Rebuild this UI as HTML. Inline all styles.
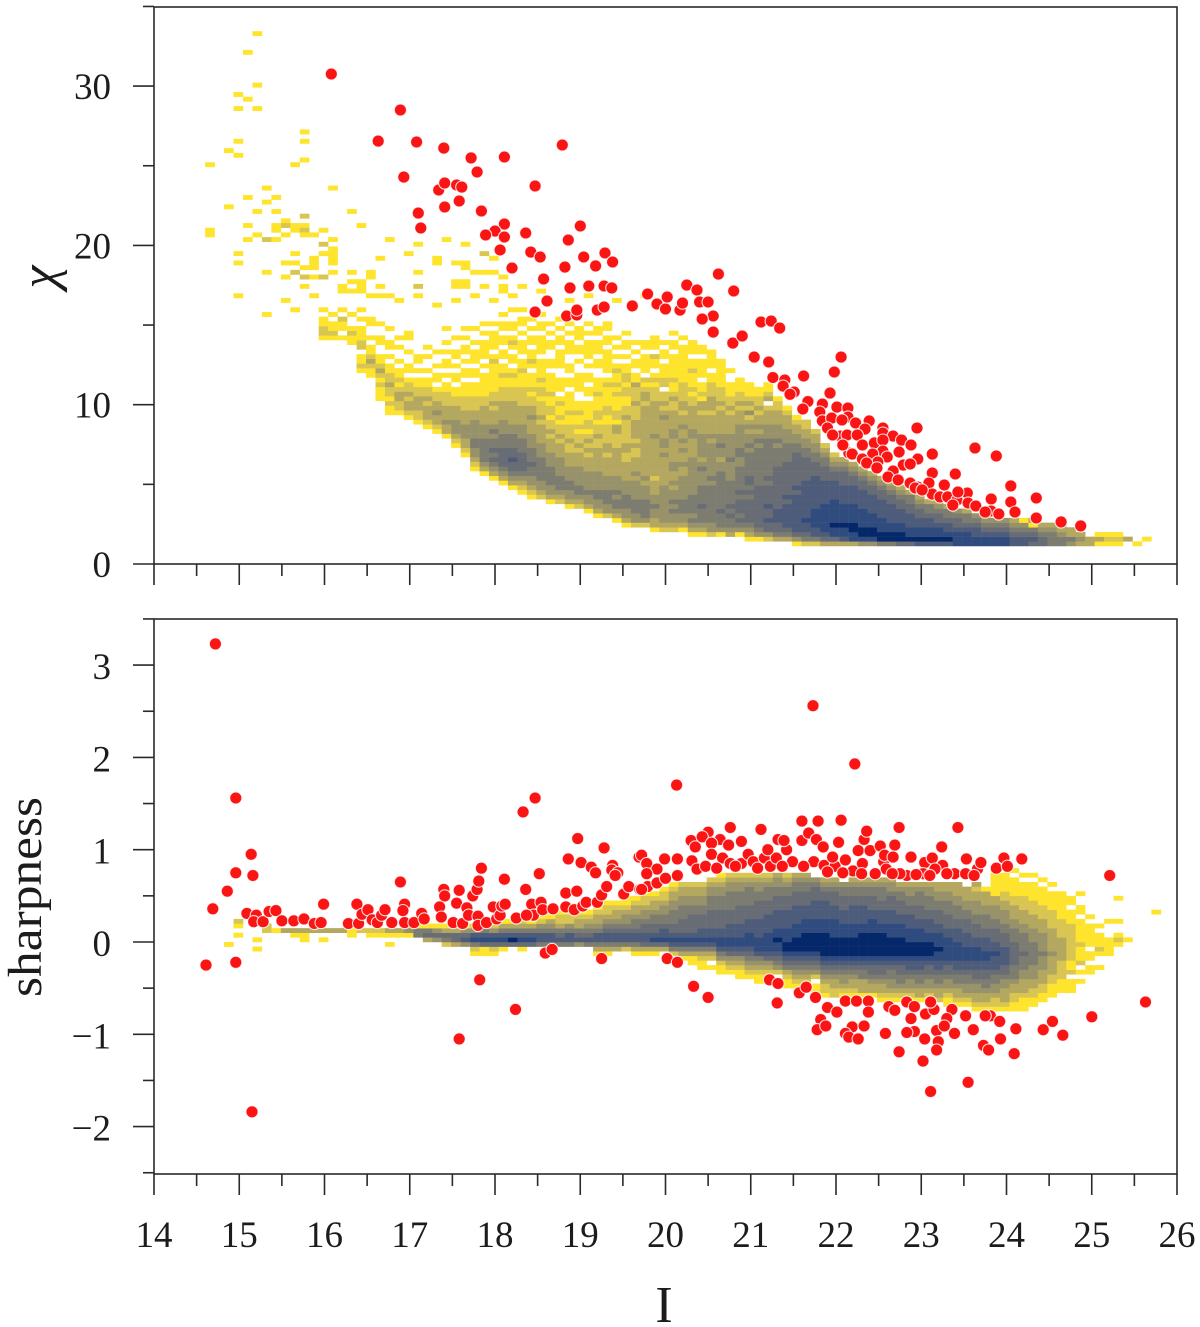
<!DOCTYPE html>
<html lang="en">
<head>
<meta charset="utf-8">
<title>Chi and sharpness versus I magnitude</title>
<style>
html,body{margin:0;padding:0;background:#fff;}
svg{display:block;font-family:"Liberation Serif",serif;}
text{fill:#1c1c1c;}
</style>
</head>
<body>
<svg id="chart" xmlns="http://www.w3.org/2000/svg" width="1200" height="1327" viewBox="0 0 1200 1327">
<rect x="0" y="0" width="1200" height="1327" fill="#fff"/>
<g id="heat"></g>
<g id="dots"></g>
<rect x="154" y="7" width="1023" height="557" fill="none" stroke="#2a2a2a" stroke-width="1.6"/>
<rect x="154" y="619" width="1023" height="555" fill="none" stroke="#2a2a2a" stroke-width="1.6"/>
<g id="axes" stroke="#2a2a2a" stroke-width="1.6"></g>
<g id="labels" font-size="37"></g>
<text transform="translate(56,277) rotate(-90)" text-anchor="middle" font-size="52" font-style="italic">χ</text>
<text transform="translate(41,897) rotate(-90)" text-anchor="middle" font-size="48" textLength="200" lengthAdjust="spacingAndGlyphs">sharpness</text>
<text x="664" y="1322" text-anchor="middle" font-size="52">I</text>
</svg>
<script>
const xMajorTicks=[14,15,16,17,18,19,20,21,22,23,24,25,26];
const xMinorTicks=[14.5,15.5,16.5,17.5,18.5,19.5,20.5,21.5,22.5,23.5,24.5,25.5];
const chiMajorTicks=[0,10,20,30];
const chiMinorTicks=[5,15,25,35];
const sharpMajorTicks=[-2,-1,0,1,2,3];
const sharpMinorTicks=[-2.5,-1.5,-0.5,0.5,1.5,2.5,3.5];
const levelColors=["#ffffff","#ffe42e","#d8c552","#b4a760","#98926a","#7d7c70","#686d75","#4e5c7b","#304c7e","#05286a"];

const binStartI=14.6;
const binWidthI=0.111;
const chiBinStart=1.13;
const chiBinHeight=0.2938;
const sharpBinStart=-1;
const sharpBinHeight=0.05;

const chiFirstColumn=12;
const chiDensity=[
[44,1,2,2,1,1,0,1],
[44,1,2,1,1,0,1],
[43,0,1,0,1,1,2,0,1],
[43,1,1,2,1,0,0,1],
[37,1,2,1,1,0,2,2,1,1,1,0,1,0,1],
[36,1,1,2,3,2,1,1,0,1,0,0,1,1],
[31,1,1,1,2,1,2,3,2,1,1,0,0,1,1,0,0,1],
[28,1,1,2,1,2,2,3,2,2,1,1,0,1,0,1,1,0,0,1],
[28,1,2,2,3,3,2,1,2,1,1,0,1,0,0,1,0,1],
[27,1,2,3,3,2,3,2,2,1,0,1,1,0,0,1,0,0,1,1],
[26,1,2,2,3,3,3,2,2,1,1,0,1,0,1,1],
[25,1,2,3,3,3,2,3,2,2,1,1,0,1,0,0,1,0,1],
[24,1,2,3,3,4,3,3,2,2,1,0,1,1,0,1,0,0,1],
[23,1,3,3,4,3,3,3,2,2,2,1,1,0,1,0,1,1,0,1,0,1,0,0,1],
[21,1,2,3,4,4,4,3,3,3,2,2,1,1,0,1,1,0,1,0,1,1,0,0,1],
[19,1,2,3,3,4,4,4,3,3,3,2,2,2,1,1,1,0,1,1,0,1,0,1,1,0,1,0,1],
[16,1,2,3,4,4,5,5,4,4,4,4,3,3,2,2,2,1,1,1,0,1,1,0,1,1,1,0,1,0,0,1],
[15,1,3,4,5,5,5,5,5,4,4,4,3,3,3,3,2,2,1,1,1,1,1,0,1,0,1,1,1,1,0,1,0,1],
[14,1,3,4,5,6,5,6,5,5,4,5,4,3,3,3,2,3,2,2,1,1,1,1,1,1,2,1,0,1,1,1,1,0,1],
[13,1,3,4,5,6,6,6,6,5,5,5,4,4,4,3,3,3,3,2,2,2,1,1,2,1,1,0,1,1,0,1,1,0,1,1,0,1],
[12,1,3,4,5,6,6,7,6,6,5,5,5,4,4,3,3,3,3,3,2,2,2,1,1,2,1,0,1,1,0,1,2,1,0,1,1,0,0,1],
[11,1,2,3,4,5,6,6,6,6,5,5,5,4,4,4,3,3,3,3,2,2,2,2,1,1,1,2,1,1,0,1,1,1,0,1,0,1,1,0,1],
[10,1,2,3,4,4,5,5,6,5,5,5,4,4,4,3,3,3,4,3,3,2,2,1,2,1,1,1,0,1,2,1,1,0,1,1,0,1,0,1],
[10,2,3,4,4,5,5,5,5,5,4,4,4,3,3,3,3,2,3,2,2,2,1,2,2,1,2,1,1,1,1,0,1,1,1,1,0,1,1,0,1],
[9,1,3,4,4,5,5,5,5,4,4,4,3,3,3,2,3,2,2,1,2,2,1,1,2,1,1,1,1,0,1,1,0,0,1,1,0,1,0,1],
[9,2,3,4,5,5,5,4,4,4,4,3,3,3,2,3,2,2,1,2,1,1,2,1,0,1,1,1,0,0,1,1,1,1,0,1,1,0,1,0,1],
[8,1,3,4,4,5,5,4,4,4,3,3,3,2,2,3,2,2,2,1,1,2,1,1,1,1,0,1,1,0,1,1,0,0,1,1,1,0,1,0,1],
[8,2,3,4,5,5,4,4,4,4,3,3,3,2,3,2,2,1,2,1,1,2,1,1,0,0,1,1,1,1,0,0,1,0,1,1,0,1,1,1],
[7,1,3,4,4,5,4,4,4,4,3,3,3,2,3,2,3,2,1,2,2,1,1,1,1,0,1,1,0,1,1,0,1,0,1,1,1,1,0,1,0,1],
[6,1,3,4,4,5,5,4,4,4,4,3,3,3,3,3,2,2,3,2,2,1,2,2,1,1,1,2,1,1,1,0,0,1,1,0,1,1,1,0,1,1],
[6,2,4,4,5,5,5,4,4,4,3,3,3,3,2,3,3,2,2,2,2,1,1,2,2,1,1,1,1,2,1,0,1,1,1,1,1,0,1,1,0,1,1],
[5,1,3,4,5,5,4,5,4,4,4,3,3,3,3,3,3,2,2,2,3,3,1,2,2,1,1,1,2,1,2,1,1,2,1,0,1,0,1,0,1],
[4,1,3,4,4,5,5,5,4,4,4,3,3,3,3,2,2,3,3,2,2,2,2,2,3,2,2,1,1,2,2,1,2,2,1,1,0,1,0,1,1,0,1],
[4,2,4,4,5,5,5,4,4,4,4,3,4,3,3,3,2,2,3,2,3,3,3,3,2,2,2,3,2,2,2,3,1,1,0,1,1,0,1,0,1],
[4,2,4,5,5,5,5,4,4,4,3,4,3,3,3,3,3,3,3,3,3,3,3,3,3,3,3,2,3,3,2,1,2,0,1,1,1,1,0,1,1],
[3,1,3,3,4,4,5,4,4,3,3,3,2,3,3,3,3,3,3,3,3,4,3,3,3,3,3,3,3,2,2,2,1,2,1,0,1,1,2,0,1,1,1],
[3,2,3,4,4,4,4,4,4,4,4,3,3,3,3,3,3,4,3,4,4,3,3,3,3,4,3,2,3,2,2,0,2,2,1,1,1,0,1,1,0,1],
[3,2,3,4,4,5,4,5,4,4,3,4,3,3,4,4,3,3,3,3,3,4,4,3,3,3,3,2,2,3,2,1,1,2,1,1,1,1,1,0,1,1,0,1],
[3,1,3,4,4,5,5,5,4,4,4,4,4,3,3,4,3,3,4,3,4,3,3,4,3,3,2,3,3,2,2,2,2,1,1,1,1,1,1,1,1,0,1],
[2,1,3,4,5,4,5,5,5,5,4,4,4,4,4,4,4,4,3,3,3,3,4,4,3,3,3,3,3,2,2,1,2,1,1,1,2,1,1,0,1,1,1],
[2,1,3,4,5,5,5,6,5,5,5,5,4,4,4,5,4,3,4,4,4,4,4,3,3,3,3,2,3,3,1,2,1,1,0,1,1,1,1,0,1,1],
[2,2,4,4,5,5,5,5,5,5,5,5,4,5,4,4,4,4,4,4,4,3,4,3,3,3,3,2,3,3,3,2,2,2,1,1,0,1,1,1,1],
[2,1,4,5,5,5,6,5,5,5,5,5,5,5,5,4,4,3,4,4,5,4,4,3,3,3,3,3,2,3,2,2,2,1,1,1,1,1,1],
[2,3,4,5,5,6,5,6,5,5,5,5,5,4,4,4,4,5,4,4,4,4,4,3,3,3,3,2,3,2,2,1,1,1,0,0,1],
[2,1,4,5,6,5,6,6,6,5,6,5,5,5,5,5,4,4,5,5,4,4,4,4,4,3,3,3,2,3,2,2,1,1,1],
[1,1,3,4,5,6,6,6,6,6,5,6,5,6,6,5,5,5,5,5,4,5,4,4,3,4,3,2,4,2,3,2,1,1,1],
[1,1,4,5,6,6,6,6,6,6,6,6,6,5,5,5,5,5,5,5,5,4,5,4,3,4,3,3,2,3,2,2,1,1],
[1,2,4,6,6,7,6,6,7,6,6,6,6,5,6,5,5,5,5,5,5,5,5,4,4,4,3,3,3,2,0,3,2,1,1],
[1,3,5,6,6,7,7,7,6,6,6,6,6,6,6,6,6,5,5,5,5,4,5,4,4,4,3,3,3,2,2,1],
[1,3,5,6,7,7,7,7,7,6,7,6,6,6,6,6,6,6,5,5,5,5,4,4,4,3,3,3,2,1],
[0,1,4,6,7,7,7,7,7,7,7,7,6,7,6,6,6,6,6,6,6,5,5,4,4,3,3,2,1],
[0,2,5,6,7,7,8,7,7,7,7,7,7,7,7,6,6,6,6,6,5,5,4,4,3,3,2,2],
[0,2,5,7,7,8,8,8,8,7,7,7,7,7,7,7,6,6,6,5,5,4,4,3,3,2],
[0,3,6,7,8,8,8,8,8,8,7,7,7,7,7,6,6,6,5,5,4,3,2],
[0,3,6,8,8,9,8,8,8,8,8,7,7,7,7,6,6,5,4,3,2],
[0,3,7,8,8,9,8,8,8,8,7,7,7,7,6,6,6,5,4,3],
[0,3,8,8,9,9,8,8,8,8,7,7,7,7,6,6,5,4,3],
[0,4,8,9,9,8,8,8,8,7,7,7,7,6,6,5,4,3],
[0,4,8,9,9,8,8,8,7,7,7,7,6,6,5,4,3],
[0,5,9,9,8,8,8,7,7,7,7,6,6,5,4,3],
[0,5,9,9,8,8,7,7,7,7,6,6,5,4,3],
[0,6,9,9,8,8,7,7,7,6,6,5,4,3],
[0,6,9,8,8,7,7,7,6,6,5,5,3],
[0,7,9,8,8,7,7,6,6,5,4,3],
[0,7,9,8,8,7,7,6,5,5,3],
[0,7,9,8,8,7,6,6,5,4,3],
[0,7,9,8,7,7,6,5,5,3],
[0,8,8,8,7,6,6,5,4],
[0,8,8,8,7,6,5,5,3],
[0,8,8,7,7,6,5,4],
[0,8,8,7,6,5,4,3],
[0,8,8,7,6,5,4],
[0,8,8,7,6,5,4],
[0,7,7,6,5,4,3],
[0,7,7,6,5,4,1],
[0,6,7,6,5,1,3],
[0,6,6,5,4,3],
[0,5,5,5,4,3],
[0,5,5,4,3,3],
[0,4,5,3,3],
[0,3,4,3],
[0,3,3],
[0,1,3,1],
[0,1,2,1],
[0,1,2,1],
[1,3],
[0,1],
[1,1]
];
const chiStrayCells=[[5,109,1],[4,105,1],[5,98,1],[3,96,1],[4,95,1],[3,93,1],[5,93,1],[10,88,1],[3,86,1],[10,86,1],[2,84,1],[3,83,1],[10,82,1],[9,81,1],[0,81,1],[6,76,1],[13,76,1],[4,74,1],[7,74,1],[6,73,1],[2,72,1],[5,71,1],[7,71,1],[15,71,1],[10,70,2],[16,68,1],[8,69,1],[8,68,2],[7,67,1],[7,68,1],[4,68,1],[9,67,1],[9,68,1],[10,68,1],[10,67,2],[12,67,1],[0,66,1],[0,67,1],[5,66,1],[8,66,1],[10,66,1],[11,66,1],[4,65,1],[6,65,2],[7,65,1],[13,65,1],[19,65,1],[25,65,1],[12,64,2],[22,64,1],[27,64,1],[3,62,1],[9,62,1],[12,62,1],[13,62,1],[13,63,1],[21,62,1],[29,62,2],[18,61,1],[24,61,1],[24,60,1],[13,61,1],[13,60,1],[30,61,1],[3,60,1],[8,60,1],[9,60,1],[11,60,1],[11,61,1],[26,60,1],[27,60,1],[27,59,1],[10,59,1],[11,59,1],[6,58,1],[13,58,1],[15,58,1],[17,58,1],[17,57,1],[22,58,1],[28,58,1],[29,58,1],[30,58,1],[9,58,2],[10,57,2],[8,57,1],[11,57,1],[12,57,2],[31,57,1],[10,55,1],[15,56,1],[16,56,1],[18,55,1],[22,55,2],[26,55,1],[27,55,1],[26,56,1],[27,56,1],[29,55,1],[31,54,1],[31,55,1],[14,55,1],[14,54,1],[15,54,1],[16,55,1],[16,54,1],[3,53,1],[11,53,1],[17,53,1],[18,53,1],[19,53,1],[8,52,1],[9,50,1],[6,49,1],[20,52,1],[22,53,1],[24,51,1],[26,52,1],[28,53,1],[30,52,1],[32,53,1],[35,54,1],[38,52,1],[40,53,1],[43,52,1],[33,55,1],[46,53,1],[48,52,1],[50,51,1]];

const sharpFirstColumn=2;
const sharpDensity=[
[19,1],
[21,1,0,1,2],
[20,0],
[18,1,0,1],
[22,2,2],
[22,1],
[22,3],
[21,1,3],
[20,1,1,3],
[22,3],
[20,1,0,3],
[22,3],
[22,3],
[21,1,1],
[22,2],
[21,1,2],
[21,1,2],
[19,1,0,1,3],
[21,1,3],
[21,1,4,3],
[21,5,5,1],
[20,3,6,5,1],
[20,4,6,4,1],
[19,2,5,6,3,1],
[19,3,6,6,3,1],
[19,4,7,6,4,1],
[17,1,2,5,8,7,4,2],
[17,1,1,6,8,7,5,2],
[17,1,2,6,8,7,4,2,1],
[18,1,6,8,7,5,3,1],
[19,6,9,7,5,3,1],
[18,1,6,8,7,5,3,2],
[19,6,8,7,5,3,1,1],
[19,5,7,7,5,4,2,1],
[19,5,7,7,5,4,3,1],
[19,5,7,6,5,3,2,2,1],
[19,5,7,7,5,4,2,2,1],
[19,4,7,6,5,3,3,2,1],
[19,5,7,6,5,4,3,2,1],
[17,1,3,5,7,7,5,4,3,3,2,1],
[17,1,3,5,7,7,6,5,4,3,2,2,1],
[18,3,5,7,7,6,5,4,3,3,2,1],
[18,2,5,7,7,6,5,4,4,3,2,1,1],
[17,1,3,5,7,7,6,5,5,4,3,3,2,1],
[17,1,3,6,7,7,6,6,5,4,4,3,2,2,1],
[17,1,3,6,8,7,6,6,5,5,4,3,3,2,1],
[18,3,6,8,7,7,6,5,5,4,4,3,2,2,1],
[17,2,5,7,8,7,6,6,5,5,5,4,4,3,3,2,1],
[16,1,3,5,7,8,7,6,6,6,5,5,5,4,4,3,3,2],
[15,1,1,3,5,7,8,7,6,6,6,6,5,5,4,4,3,3,2],
[14,1,1,2,3,5,7,8,7,7,6,6,6,5,5,4,4,3,3,2],
[14,1,0,2,3,5,7,8,7,7,6,6,6,6,5,5,5,4,4,3,2],
[13,1,1,2,4,5,7,8,8,7,7,6,6,6,6,5,5,5,4,4,3,2,1],
[13,1,2,3,4,6,7,8,8,7,7,7,6,6,6,5,5,5,5,4,4,3,2],
[12,1,1,2,3,4,6,7,8,8,7,7,7,6,6,6,6,5,5,5,4,4,3,2],
[12,1,2,3,4,5,6,7,8,8,8,7,7,7,6,6,6,5,5,5,5,4,3,2],
[11,1,1,2,3,4,5,7,8,8,8,7,7,7,7,6,6,6,6,5,5,4,4,3,2],
[11,1,1,2,3,4,6,7,8,8,8,8,7,7,7,7,6,6,6,5,5,5,4,3,2],
[11,1,0,2,4,5,6,7,8,8,9,8,8,7,7,7,7,6,6,6,5,5,4,4,3],
[10,1,1,2,3,5,6,7,8,9,9,8,8,8,7,7,7,7,6,6,6,5,5,4,3,2],
[10,1,2,3,4,5,6,7,8,9,9,9,8,8,8,7,7,7,7,6,6,6,5,5,4,3],
[10,0,2,3,4,5,6,7,8,9,9,9,9,8,8,8,7,7,7,6,6,6,5,5,4,3],
[9,1,1,0,2,4,5,6,7,8,9,9,9,9,8,8,8,7,7,7,7,6,6,6,5,4],
[8,1,2,2,3,4,5,6,7,8,9,9,9,9,9,8,8,8,7,7,7,7,6,6,5,4,3],
[8,2,2,3,3,4,5,6,7,8,9,9,9,9,8,8,8,8,7,7,7,6,6,6,5,4,3],
[8,1,2,3,4,4,5,6,7,8,9,9,9,9,8,8,8,7,7,7,6,6,6,5,5,4],
[8,1,2,3,3,4,5,6,7,8,9,9,9,9,8,8,8,7,7,7,7,6,6,5,5,4,3],
[8,1,3,3,3,5,5,6,7,8,9,9,9,9,9,8,8,7,7,7,7,6,6,5,5,4,3],
[8,1,3,3,4,5,6,6,7,8,9,9,9,9,9,8,8,8,7,7,6,6,6,5,5,4,3],
[7,1,2,3,3,4,5,6,6,7,8,9,9,9,9,9,8,8,7,7,7,6,6,5,5,5,4,3],
[7,1,2,3,4,4,5,5,6,7,8,9,9,9,9,8,8,8,7,7,7,6,6,6,5,4,4,3],
[7,1,2,3,4,5,5,6,6,7,8,9,9,9,9,8,8,8,7,7,6,6,6,5,5,4,3],
[7,1,2,3,4,4,5,6,7,7,8,9,9,9,8,8,8,7,7,7,6,6,5,5,4,4,3],
[7,1,3,3,4,5,5,6,7,7,8,9,9,9,8,8,8,7,7,6,6,6,5,5,5,4,3],
[7,1,2,3,4,4,5,6,6,7,8,9,9,9,8,8,7,7,7,6,6,5,5,5,4,4,3],
[7,2,3,3,4,5,5,6,7,7,8,8,9,8,8,8,7,7,6,6,6,5,5,4,4,3,3],
[6,1,1,2,3,4,4,5,6,6,7,8,8,8,8,8,7,7,6,6,6,5,5,5,4,4,3,3],
[6,1,2,3,3,4,5,5,6,7,7,8,8,8,8,7,7,7,6,6,5,5,5,4,4,3,3,3],
[6,1,2,3,4,4,5,5,6,7,7,8,8,8,7,7,7,6,6,6,5,5,4,4,3,3,3,0],
[5,1,2,3,3,4,4,5,6,6,7,7,8,8,8,7,7,6,6,6,5,5,4,4,4,3,3,2,3],
[5,1,2,3,3,4,5,5,6,6,7,7,8,8,7,7,7,6,6,5,5,5,4,4,3,3,3,1,0],
[5,1,2,2,3,4,4,5,5,6,7,7,7,8,7,7,6,6,6,5,5,4,4,4,3,3,1,1,1,1,1],
[5,1,2,3,3,3,4,4,5,6,6,7,7,7,7,6,6,6,5,5,4,4,4,3,3,2,2,1,1,1,1],
[5,1,1,2,2,3,3,4,5,5,5,6,6,6,6,6,5,5,5,4,4,3,3,3,2,2,1,1,1,1,0,1],
[5,1,1,1,2,3,3,3,4,4,5,5,5,6,5,5,5,5,4,4,3,3,3,2,2,2,1,1,1,0,1],
[6,1,1,2,2,3,3,4,4,4,5,5,5,5,5,4,4,4,3,3,3,2,2,2,1,1,1,1,0,1],
[7,1,1,2,2,3,3,3,4,4,4,5,4,4,4,4,3,3,3,2,2,2,1,1,1,1,0,1],
[8,1,1,1,2,2,3,3,3,3,4,3,3,3,3,3,2,2,2,2,1,1,1,1,0,1],
[9,1,1,1,2,2,2,2,3,3,3,3,3,2,2,2,2,1,1,1,1,1,1],
[9,1,1,1,0,2,1,1,2,2,2,2,2,2,2,2,1,1,1,0,1,1],
[10,0,1,0,1,0,2,1,1,1,2,1,1,1,1,1,0,1,1,0,0,1],
[13,1,1,0,1,1,0,1,1,1,1,1,0,1],
[14,1,0,0,1,2,1,1,1,0,1],
[17,1,1,1,1,0,0,0,1],
[19,1,2,1,0,0,1,0,0,0,0,1],
[20,1],
[19,0],
[19,0],
[26,1]
];

const chiOutliers=[[16.08,30.76],[16.89,28.5],[16.63,26.55],[17.08,26.49],[17.4,26.11],[17.72,25.49],[18.11,25.55],[18.79,26.3],[16.93,24.29],[17.79,24.61],[18.47,23.73],[17.34,23.48],[17.41,23.92],[17.55,23.79],[17.61,23.66],[17.58,22.79],[17.41,22.41],[17.84,22.16],[17.1,22.03],[17.13,21.09],[18.11,21.34],[19,21.22],[18,20.9],[17.89,20.65],[18.11,20.53],[18.86,20.34],[18.06,19.71],[18.36,20.78],[18.42,19.58],[18.53,19.27],[19.29,19.52],[19.04,19.27],[19.38,18.96],[19.18,18.71],[18.82,18.64],[18.2,18.58],[18.57,17.89],[18.88,17.33],[19.1,17.45],[19.28,17.45],[19.37,17.33],[18.61,16.51],[18.47,15.82],[18.84,15.57],[18.96,15.63],[18.96,15.94],[19.2,15.94],[19.28,16.13],[19.61,16.2],[19.79,16.95],[19.9,16.32],[20,16.01],[20.02,16.76],[20.17,15.94],[20.2,16.38],[20.25,17.51],[20.37,17.2],[20.4,16.45],[20.5,16.45],[20.56,15.57],[20.43,15.38],[20.56,14.56],[20.62,18.2],[20.8,17.14],[20.79,13.87],[20.9,14.31],[21.12,15.19],[21.24,15.25],[21.34,14.81],[21.04,12.99],[21.21,12.68],[21.62,11.8],[22.06,12.99],[21.98,12.05],[21.26,11.71],[21.4,11.55],[21.38,11.17],[21.51,10.8],[21.46,10.65],[21.67,10.2],[21.61,9.73],[21.93,10.73],[21.84,10.04],[22.01,9.85],[21.81,9.54],[21.84,8.98],[21.95,9.16],[21.9,8.54],[22.05,8.03],[21.96,8.1],[22.09,7.41],[22.14,9.79],[22.14,9.23],[22.07,9.04],[22.15,6.97],[22.39,8.98],[22.23,8.85],[22.34,8.47],[22.55,8.54],[22.55,8.22],[22.67,8.03],[22.77,7.78],[22.95,8.54],[22.88,7.47],[22.13,8.1],[22.25,8.1],[22.08,7.47],[22.31,7.47],[22.19,6.9],[22.45,7.6],[22.55,7.78],[22.74,7.03],[22.55,7.09],[22.43,6.9],[22.31,6.59],[22.6,6.72],[22.49,6.4],[22.36,6.34],[22.96,6.59],[22.79,6.21],[23.13,6.9],[23.63,7.28],[23.88,6.78],[22.48,6.03],[22.67,5.84],[22.87,6.28],[22.61,5.46],[22.73,5.27],[23.13,5.71],[23.4,5.65],[22.87,5.08],[22.96,4.83],[23.09,5.08],[22.93,4.77],[23.27,4.96],[23.13,4.39],[23.01,4.65],[23.22,4.21],[23.31,4.21],[23.42,4.02],[23.37,3.7],[23.54,4.46],[23.43,4.52],[23.55,3.83],[23.64,3.64],[23.82,4.08],[24.05,4.9],[24.05,3.89],[24.35,4.14],[23.82,3.33],[23.75,3.26],[23.91,3.14],[24.1,3.26],[24.35,2.89],[24.64,2.64],[24.87,2.39]];

const sharpOutliers=[[14.72,3.23],[15.15,-1.84],[14.96,1.56],[15.14,0.95],[14.96,0.75],[15.16,0.72],[14.86,0.55],[14.69,0.36],[14.61,-0.25],[14.96,-0.22],[15.09,0.31],[15.2,0.29],[15.17,0.22],[15.28,0.22],[15.35,0.33],[15.43,0.34],[15.5,0.23],[15.64,0.23],[15.76,0.25],[15.88,0.2],[15.96,0.21],[15.99,0.41],[16.28,0.2],[16.4,0.2],[16.38,0.41],[16.44,0.3],[16.51,0.35],[16.56,0.24],[16.62,0.21],[16.67,0.29],[16.71,0.35],[16.79,0.21],[16.89,0.65],[16.94,0.41],[16.92,0.34],[16.94,0.21],[17.05,0.21],[17.14,0.31],[17.17,0.25],[17.4,0.57],[17.41,0.5],[17.58,0.56],[17.55,0.42],[17.35,0.38],[17.37,0.27],[17.51,0.21],[17.62,0.2],[17.67,0.37],[17.69,0.29],[17.74,0.5],[17.79,0.57],[17.81,0.66],[17.84,0.8],[17.82,-0.41],[17.58,-1.05],[17.8,0.28],[17.8,0.18],[17.9,0.21],[18.02,0.25],[17.98,0.38],[18.06,0.29],[18.08,0.39],[18.12,0.41],[18.11,0.68],[18.25,0.26],[18.24,-0.73],[18.36,0.57],[18.33,1.41],[18.47,1.56],[18.52,0.74],[18.43,0.41],[18.54,0.43],[18.45,0.29],[18.37,0.29],[18.56,0.35],[18.68,0.36],[18.59,-0.12],[18.67,-0.08],[18.83,0.38],[18.83,0.53],[18.86,0.9],[18.97,1.12],[18.96,0.55],[19.01,0.86],[18.93,0.35],[19.03,0.39],[19.07,0.43],[19.13,0.81],[19.18,0.75],[19.28,1.02],[19.2,0.43],[19.25,0.51],[19.25,-0.18],[19.31,0.6],[19.38,0.83],[19.37,0.78],[19.44,0.75],[19.41,0.72],[19.51,0.52],[19.57,0.6],[19.7,0.57],[19.69,0.92],[19.78,0.86],[19.79,0.6],[19.72,0.94],[19.78,0.85],[19.9,0.79],[19.99,0.9],[20.14,0.9],[19.78,0.74],[19.9,0.64],[20,0.69],[19.72,0.57],[20.14,0.72],[20.3,1.1],[20.35,1.03],[20.5,1.19],[20.43,1.14],[20.64,1.11],[20.76,1.24],[20.74,1.05],[20.54,1.07],[20.89,1.09],[21.12,1.22],[20.31,0.88],[20.37,0.79],[20.54,0.95],[20.67,0.91],[20.47,0.82],[20.76,0.85],[20.89,0.85],[20.97,0.95],[21.03,0.87],[21.16,0.91],[21.23,0.82],[21.3,0.91],[21.42,1],[21.2,1],[21.32,1.11],[21.39,1.1],[21.49,0.87],[21.6,1.1],[21.6,1.31],[21.79,1.31],[22.06,1.32],[21.68,1.18],[21.77,1.11],[21.85,1.03],[22.03,1.08],[21.74,0.87],[21.86,0.83],[21.99,0.82],[22.11,0.89],[21.96,0.92],[22.26,0.99],[22.4,0.99],[22.33,1.11],[22.36,1.2],[22.2,0.77],[22.31,0.85],[22.52,1.04],[22.69,1.05],[22.74,1.24],[22.56,0.87],[22.57,0.94],[22.67,0.92],[22.59,0.79],[22.88,0.92],[22.83,0.72],[22.75,0.74],[23.04,0.86],[23.02,0.74],[23.13,0.91],[23.25,0.83],[23.16,0.79],[23.24,1.03],[23.43,1.24],[23.39,0.74],[23.52,0.74],[23.53,0.9],[23.66,0.79],[23.7,0.86],[23.88,0.8],[23.97,0.91],[24.01,0.82],[24.18,0.9],[25.21,0.72],[22.94,0.73],[20.6,0.8],[20.82,0.82],[21.08,0.8],[21.37,0.82],[21.62,0.82],[21.9,0.76],[22.08,0.75],[22.3,0.74],[22.46,0.74],[22.66,0.74],[23.1,0.72],[23.3,0.74],[23.62,0.72],[21.73,2.56],[22.22,1.93],[20.13,1.7],[20.02,-0.18],[20.14,-0.22],[20.33,-0.48],[20.5,-0.6],[21.22,-0.41],[21.32,-0.45],[21.31,-0.66],[21.57,-0.55],[21.65,-0.49],[21.76,-0.6],[21.9,-0.71],[22.01,-0.76],[22.11,-0.64],[22.24,-0.64],[22.38,-0.64],[22.38,-0.76],[22.62,-0.7],[22.69,-0.74],[22.83,-0.65],[22.92,-0.7],[22.88,-0.83],[23.05,-0.78],[23.15,-0.73],[23.11,-0.65],[23.36,-0.73],[23.3,-0.83],[23.52,-0.8],[23.81,-0.8],[23.75,-0.8],[23.92,-0.86],[21.82,-0.84],[21.78,-0.95],[21.88,-0.91],[22.19,-0.92],[22.33,-0.91],[22.11,-0.99],[22.15,-1.03],[22.26,-1.05],[22.58,-0.99],[22.92,-0.97],[22.83,-0.98],[23.04,-1.05],[23.18,-0.96],[23.27,-0.91],[23.39,-0.99],[23.61,-0.95],[23.2,-1.08],[23.18,-1.17],[22.74,-1.19],[23.02,-1.29],[23.55,-1.52],[23.11,-1.62],[23.93,-1.05],[23.73,-1.12],[23.79,-1.17],[24.09,-1.21],[24.11,-0.94],[24.43,-0.95],[24.54,-0.86],[24.66,-1.01],[25,-0.81],[25.63,-0.65]];

const svgNS="http://www.w3.org/2000/svg";
function xAxis(v){return 154+(v-14)*85.25;}
function chiAxis(v){return 564-v*15.93;}
function sharpAxis(v){return 942-v*92.3;}
function binLeft(c){return xAxis(binStartI+c*binWidthI);}
function make(tag,parent){var e=document.createElementNS(svgNS,tag);parent.appendChild(e);return e;}
var heat=document.getElementById('heat');
var dots=document.getElementById('dots');
var axes=document.getElementById('axes');
var labels=document.getElementById('labels');
var cellW=binWidthI*85.25;

function drawCell(c,r,level,yAxis,start,height){
  if(!level)return;
  var rect=make('rect',heat);
  
  
  var top=yAxis(start+(r+1)*height);
  var bottom=yAxis(start+r*height);
  rect.setAttribute('x',binLeft(c).toFixed(2));
  rect.setAttribute('y',top.toFixed(2));
  rect.setAttribute('width',(cellW+0.25).toFixed(2));
  rect.setAttribute('height',(bottom-top+0.25).toFixed(2));
  rect.setAttribute('fill',levelColors[level]);
}
function drawDensity(columns,first,yAxis,start,height){
  columns.forEach(function(col,i){
    for(var k=1;k<col.length;k++){
      drawCell(first+i,col[0]+k-1,col[k],yAxis,start,height);
    }
  });
}
drawDensity(chiDensity,chiFirstColumn,chiAxis,chiBinStart,chiBinHeight);
chiStrayCells.forEach(function(s){drawCell(s[0],s[1],s[2],chiAxis,chiBinStart,chiBinHeight);});
drawDensity(sharpDensity,sharpFirstColumn,sharpAxis,sharpBinStart,sharpBinHeight);

function drawDots(points,yAxis){
  points.forEach(function(p){
    var dot=make('circle',dots);
    
    
    dot.setAttribute('cx',xAxis(p[0]).toFixed(1));
    dot.setAttribute('cy',yAxis(p[1]).toFixed(1));
    dot.setAttribute('r','6.1');
    dot.setAttribute('fill','#fb1414');
    dot.setAttribute('stroke','#ffffff');
    dot.setAttribute('stroke-opacity','0.85');
    dot.setAttribute('stroke-width','1.1');
  });
}
drawDots(chiOutliers,chiAxis);
drawDots(sharpOutliers,sharpAxis);

function tick(x1,y1,x2,y2,name){
  var t=make('line',axes);
  
  
  t.setAttribute('x1',x1);
  t.setAttribute('y1',y1);
  t.setAttribute('x2',x2);
  t.setAttribute('y2',y2);
}
function label(x,y,anchor,str,name){
  var t=make('text',labels);
  
  
  t.setAttribute('x',x);
  t.setAttribute('y',y);
  t.setAttribute('text-anchor',anchor);
  t.textContent=str;
}
[564,1174].forEach(function(base){
  xMajorTicks.forEach(function(v){tick(xAxis(v),base,xAxis(v),base+21,'x-major-tick');});
  xMinorTicks.forEach(function(v){tick(xAxis(v),base,xAxis(v),base+12,'x-minor-tick');});
});
xMajorTicks.forEach(function(v){label(xAxis(v),1247,'middle',String(v),'x-tick-label');});
chiMajorTicks.forEach(function(v){
  tick(133,chiAxis(v),154,chiAxis(v),'chi-major-tick');
  label(111,chiAxis(v)+13,'end',String(v),'chi-tick-label');
});
chiMinorTicks.forEach(function(v){tick(143,chiAxis(v),154,chiAxis(v),'chi-minor-tick');});
sharpMajorTicks.forEach(function(v){
  tick(133,sharpAxis(v),154,sharpAxis(v),'sharpness-major-tick');
  label(111,sharpAxis(v)+14,'end',(v<0?'\u2212':'')+Math.abs(v),'sharpness-tick-label');
});
sharpMinorTicks.forEach(function(v){tick(143,sharpAxis(v),154,sharpAxis(v),'sharpness-minor-tick');});
</script>
</body>
</html>
